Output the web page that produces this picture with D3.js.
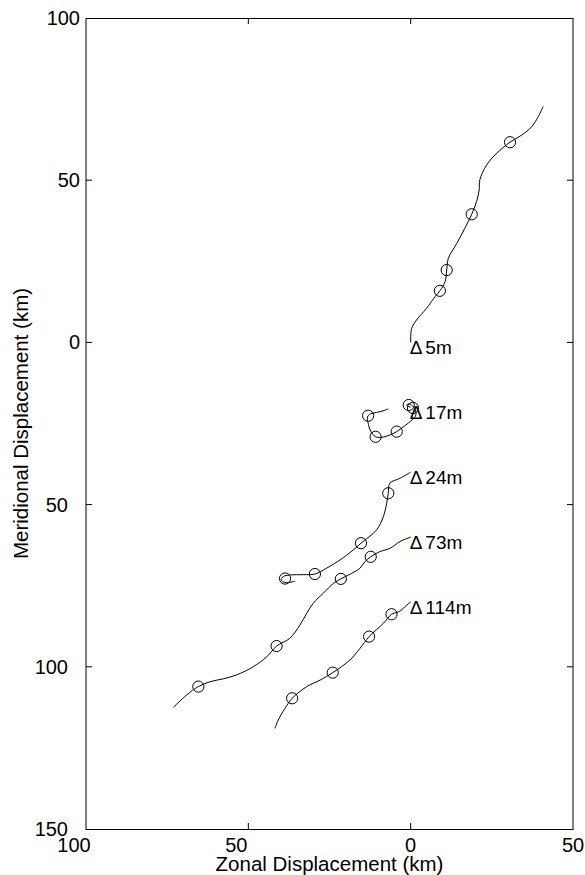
<!DOCTYPE html>
<html>
<head>
<meta charset="utf-8">
<script src="https://cdn.jsdelivr.net/npm/d3@7"></script>
<style>
  html, body { margin: 0; padding: 0; background: #fff; }
  svg text { font-family: "Liberation Sans", Arial, Helvetica, sans-serif; fill: #000; }
</style>
</head>
<body>
<svg id="chart" width="585" height="875"></svg>
<script>
// Float trajectories (km), each offset vertically by depth; x = zonal, y = meridional
const depthLabels = ["5m", "17m", "24m", "73m", "114m"];

const track5 = [
  [0, 0], [0.3, 4.3], [1.8, 6.9], [4.9, 10.5], [7.5, 14.1], [9.0, 15.9], [10.6, 18.7],
  [11.1, 22.3], [11.6, 25.9], [14.2, 30.5], [16.7, 35.2], [18.8, 39.5], [20.3, 43.4],
  [21.1, 47.0], [21.3, 50.1], [23.4, 54.7], [26.5, 58.3], [30.6, 61.7], [34.2, 63.9],
  [37.3, 66.5], [39.3, 69.6], [40.8, 72.7]
];
const marks5 = [[9.0, 15.9], [11.1, 22.3], [18.8, 39.5], [30.6, 61.7]];

const track17 = [
  [0, -20], [-1.2, -19.4], [-0.6, -18.9], [0.6, -19.6], [1.4, -20.8], [1.6, -22.4],
  [0.4, -23.9], [-1.8, -25.7], [-4.3, -27.5], [-6.5, -28.6], [-8.6, -29.2], [-10.8, -29.1],
  [-12.3, -27.4], [-13.0, -25.3], [-13.3, -23.0], [-12.3, -22.0], [-10.5, -21.6],
  [-8.5, -21.1], [-6.9, -20.5]
];
const marks17 = [[-0.6, -19.3], [0.7, -20.2], [-4.3, -27.5], [-10.8, -29.1], [-13.1, -22.6]];

const track24 = [
  [0, -40], [-3.3, -41.9], [-6.4, -43.4], [-6.9, -46.5], [-7.4, -49.6], [-8.4, -53.7],
  [-10.5, -57.8], [-15.3, -61.9], [-17.7, -64.0], [-21.8, -67.1], [-25.9, -69.6],
  [-29.5, -71.4], [-33.1, -71.6], [-37.2, -71.7], [-39.3, -72.2], [-39.9, -73.3],
  [-38.7, -74.0], [-36.9, -73.9], [-35.6, -73.6]
];
const marks24 = [[-6.9, -46.5], [-15.3, -61.9], [-29.5, -71.4], [-38.7, -72.8]];

const track73 = [
  [0, -60], [-3.3, -61.4], [-6.4, -63.5], [-9.5, -64.5], [-12.3, -66.1], [-14.1, -67.6],
  [-15.6, -69.6], [-18.2, -71.2], [-21.5, -72.9], [-23.8, -74.3], [-26.9, -77.3],
  [-30.0, -80.4], [-32.0, -83.5], [-34.1, -87.1], [-37.2, -91.2], [-41.3, -93.6],
  [-44.3, -96.9], [-48.5, -100.0], [-53.6, -102.5], [-57.7, -103.7], [-61.8, -104.6],
  [-65.4, -106.1], [-69.0, -108.7], [-73.1, -112.5]
];
const marks73 = [[-12.3, -66.1], [-21.5, -72.9], [-41.3, -93.6], [-65.4, -106.1]];

const track114 = [
  [0, -80], [-1.8, -81.5], [-2.8, -82.5], [-4.1, -83.2], [-5.9, -83.8], [-8.4, -86.6],
  [-12.8, -90.7], [-15.6, -94.3], [-18.7, -97.9], [-24.0, -101.8], [-27.9, -104.1],
  [-32.0, -106.1], [-36.5, -109.7], [-38.7, -112.8], [-40.8, -116.4], [-41.8, -119.0]
];
const marks114 = [[-5.9, -83.8], [-12.8, -90.7], [-24.0, -101.8], [-36.5, -109.7]];

const xTicks = [-100, -50, 0, 50];
const yTicks = [100, 50, 0, -50, -100, -150];
const xTitle = "Zonal Displacement (km)";
const yTitle = "Meridional Displacement (km)";

const tracks = [track5, track17, track24, track73, track114];
const marks = [marks5, marks17, marks24, marks73, marks114];

const svg = d3.select("#chart");
const x = d3.scaleLinear().domain([-100, 50]).range([86, 573]);
const y = d3.scaleLinear().domain([100, -150]).range([18, 829]);
const fmt = d => String(Math.abs(d));
const negShift = d => (d < 0 ? -12 : 0);

// frame
const frame = svg.append("g").attr("fill", "none").attr("stroke", "#000").attr("stroke-width", 1);
frame.append("line").attr("x1", x(-100)).attr("x2", x(50)).attr("y1", y(100) + 0.5).attr("y2", y(100) + 0.5);
frame.append("line").attr("x1", x(-100)).attr("x2", x(50)).attr("y1", y(-150) + 0.5).attr("y2", y(-150) + 0.5);
frame.append("line").attr("x1", x(-100)).attr("x2", x(-100)).attr("y1", y(100)).attr("y2", y(-150) + 1);
frame.append("line").attr("x1", x(50)).attr("x2", x(50)).attr("y1", y(100)).attr("y2", y(-150) + 1);

// inward ticks on all four sides
const tl = 6;
xTicks.filter(d => d > -100 && d < 50).forEach(d => {
  frame.append("line").attr("x1", x(d)).attr("x2", x(d)).attr("y1", y(-150)).attr("y2", y(-150) - tl);
  frame.append("line").attr("x1", x(d)).attr("x2", x(d)).attr("y1", y(100)).attr("y2", y(100) + tl);
});
yTicks.filter(d => d < 100 && d > -150).forEach(d => {
  frame.append("line").attr("x1", x(-100)).attr("x2", x(-100) + tl).attr("y1", y(d)).attr("y2", y(d));
  frame.append("line").attr("x1", x(50)).attr("x2", x(50) - tl).attr("y1", y(d)).attr("y2", y(d));
});

// tick labels
svg.append("g").selectAll("text").data(yTicks).join("text")
  .attr("x", d => x(-100) - 6 + negShift(d))
  .attr("y", d => y(d))
  .attr("dy", "0.35em")
  .attr("text-anchor", "end")
  .attr("font-size", 20)
  .text(fmt);

svg.append("g").selectAll("text").data(xTicks).join("text")
  .attr("x", d => x(d) + negShift(d))
  .attr("y", y(-150) + 23)
  .attr("text-anchor", "middle")
  .attr("font-size", 20)
  .text(fmt);

// axis titles
svg.append("text")
  .attr("x", (x(-100) + x(50)) / 2)
  .attr("y", 871)
  .attr("text-anchor", "middle")
  .attr("font-size", 20.5)
  .text(xTitle);

svg.append("text")
  .attr("transform", `translate(28,${(y(100) + y(-150)) / 2}) rotate(-90)`)
  .attr("text-anchor", "middle")
  .attr("font-size", 20.5)
  .text(yTitle);

// trajectories
const line = d3.line().x(d => x(d[0])).y(d => y(d[1])).curve(d3.curveCatmullRom.alpha(0.5));
const g = svg.append("g");
tracks.forEach((t, i) => {
  g.append("path").attr("d", line(t)).attr("fill", "none").attr("stroke", "#000").attr("stroke-width", 1);
  g.selectAll(null).data(marks[i]).join("circle")
    .attr("cx", d => x(d[0])).attr("cy", d => y(d[1])).attr("r", 5.6)
    .attr("fill", "none").attr("stroke", "#000").attr("stroke-width", 1);
  const start = t[0];
  const lab = g.append("text")
    .attr("x", x(start[0]) - 1)
    .attr("y", y(start[1]) + 12)
    .attr("font-size", 19);
  lab.append("tspan").text("Δ");
  lab.append("tspan").attr("dx", 3).text(depthLabels[i]);
});
</script>
</body>
</html>
